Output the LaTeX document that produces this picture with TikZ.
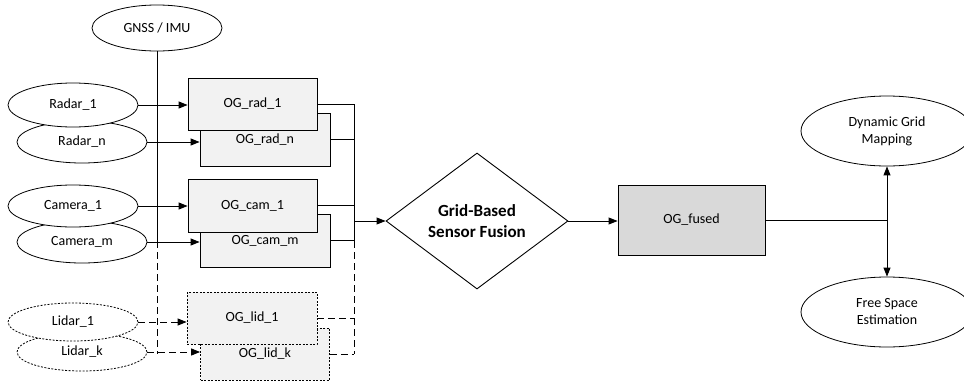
\documentclass[tikz,border=0pt]{standalone}
\usepackage{fontspec}
\setmainfont{Carlito}
\usetikzlibrary{shapes.geometric,arrows.meta}
\definecolor{boxgray}{HTML}{F2F2F2}
\definecolor{fusedgray}{HTML}{D9D9D9}
\tikzset{
  lbl/.style={font=\fontsize{14}{17}\selectfont, align=center},
  sensor/.style={ellipse, draw, fill=white, line width=0.8pt, minimum width=130pt, minimum height=43pt, inner sep=0pt, lbl},
  ogbox/.style={rectangle, draw, fill=boxgray, line width=0.8pt, minimum width=130pt, minimum height=53pt, inner sep=0pt, lbl},
  dotline/.style={dash pattern=on 2pt off 1.5pt},
  dline/.style={dash pattern=on 7pt off 4pt},
  link/.style={line width=0.9pt},
  arr/.style={link, -{Triangle[length=9pt,width=7pt]}},
}
\begin{document}
\begin{tikzpicture}[x=1pt,y=-1pt]
\useasboundingbox (0,0) rectangle (964,383);
\clip (0,0) rectangle (964,383);

% GNSS
\node[sensor, minimum height=46pt] (gnss) at (157,28) {GNSS / IMU};

% radar
\node[sensor, minimum height=42pt] (rn) at (82,142) {Radar\_n};
\node[sensor, minimum height=44pt] (r1) at (73,105) {Radar\_1};
\node[ogbox] (ogrn) at (265,139.5) {OG\_rad\_n};
\node[ogbox, minimum width=129pt, minimum height=52pt] (ogr1) at (252.5,104) {OG\_rad\_1};

% camera
\node[sensor, minimum height=42pt] (cm) at (82,242) {Camera\_m};
\node[sensor, minimum height=42pt] (c1) at (73,206) {Camera\_1};
\node[ogbox] (ogcm) at (265,240.5) {OG\_cam\_m};
\node[ogbox, minimum width=129pt] (ogc1) at (252.5,205.5) {OG\_cam\_1};

% lidar
\node[sensor, dotline, minimum height=38pt] (lk) at (82,352) {Lidar\_k};
\node[sensor, dotline, minimum height=38pt] (l1) at (73,322) {Lidar\_1};
\node[ogbox, dotline, minimum width=129pt, minimum height=52pt] (oglk) at (265,354) {OG\_lid\_k};
\node[ogbox, dotline, minimum width=130pt, minimum height=52pt] (ogl1) at (252,318) {OG\_lid\_1};

% fusion
\node[diamond, draw, fill=white, line width=0.9pt, minimum width=182pt, minimum height=136pt, inner sep=0pt,
      font=\fontsize{17}{21}\selectfont\bfseries, align=center] (fusion) at (477,221) {Grid-Based\\Sensor Fusion};
\node[rectangle, draw, fill=fusedgray, line width=0.9pt, minimum width=147pt, minimum height=70pt, inner sep=0pt, lbl] (ogf) at (691.5,220) {OG\_fused};
\node[sensor, minimum width=172pt, minimum height=70pt] (dgm) at (887,131) {Dynamic Grid\\Mapping};
\node[sensor, minimum width=172pt, minimum height=70pt] (fse) at (887,312) {Free Space\\Estimation};

% bus coordinates
\coordinate (lt) at (gnss.south);
\coordinate (lm) at (157,241);
\coordinate (lb) at (157,354);
\coordinate (rt) at (354,104);
\coordinate (rm) at (354,241);
\coordinate (rb) at (354,354);
\coordinate (rj) at (354,221);
\coordinate (sp) at (887,220);

% left bus
\draw[link] (lt) -- (lm);
\draw[link, dline] (lm) -- (lb);

% sensor -> grid arrows
\draw[arr] (r1.east) -- (r1.east -| ogr1.west);
\draw[arr] (rn.east) -- (rn.east -| ogrn.west);
\draw[arr] (c1.east) -- (c1.east -| ogc1.west);
\draw[arr] (cm.east) -- (cm.east -| ogcm.west);
\draw[arr, dline] (l1.east) -- (l1.east -| ogl1.west);
\draw[arr, dline] (lk.east) -- (lk.east -| oglk.west);

% grid -> right bus
\draw[link] (ogr1.east) -- (ogr1.east -| rt);
\draw[link] (ogrn.east) -- (ogrn.east -| rt);
\draw[link] (ogc1.east) -- (ogc1.east -| rt);
\draw[link] (ogcm.east) -- (ogcm.east -| rt);
\draw[link, dline] (ogl1.east) -- (ogl1.east -| rt);
\draw[link, dline] (oglk.east) -- (oglk.east -| rt);
\draw[link] (rt) -- (rm);
\draw[link, dline] (rm) -- (rb);
\draw[arr] (rj) -- (fusion.west);

% fusion -> fused -> outputs
\draw[arr] (fusion.east) -- (fusion.east -| ogf.west);
\draw[link] (ogf.east) -- (sp);
\draw[arr] (sp) -- (dgm.south);
\draw[arr] (sp) -- (fse.north);
\end{tikzpicture}
\end{document}
